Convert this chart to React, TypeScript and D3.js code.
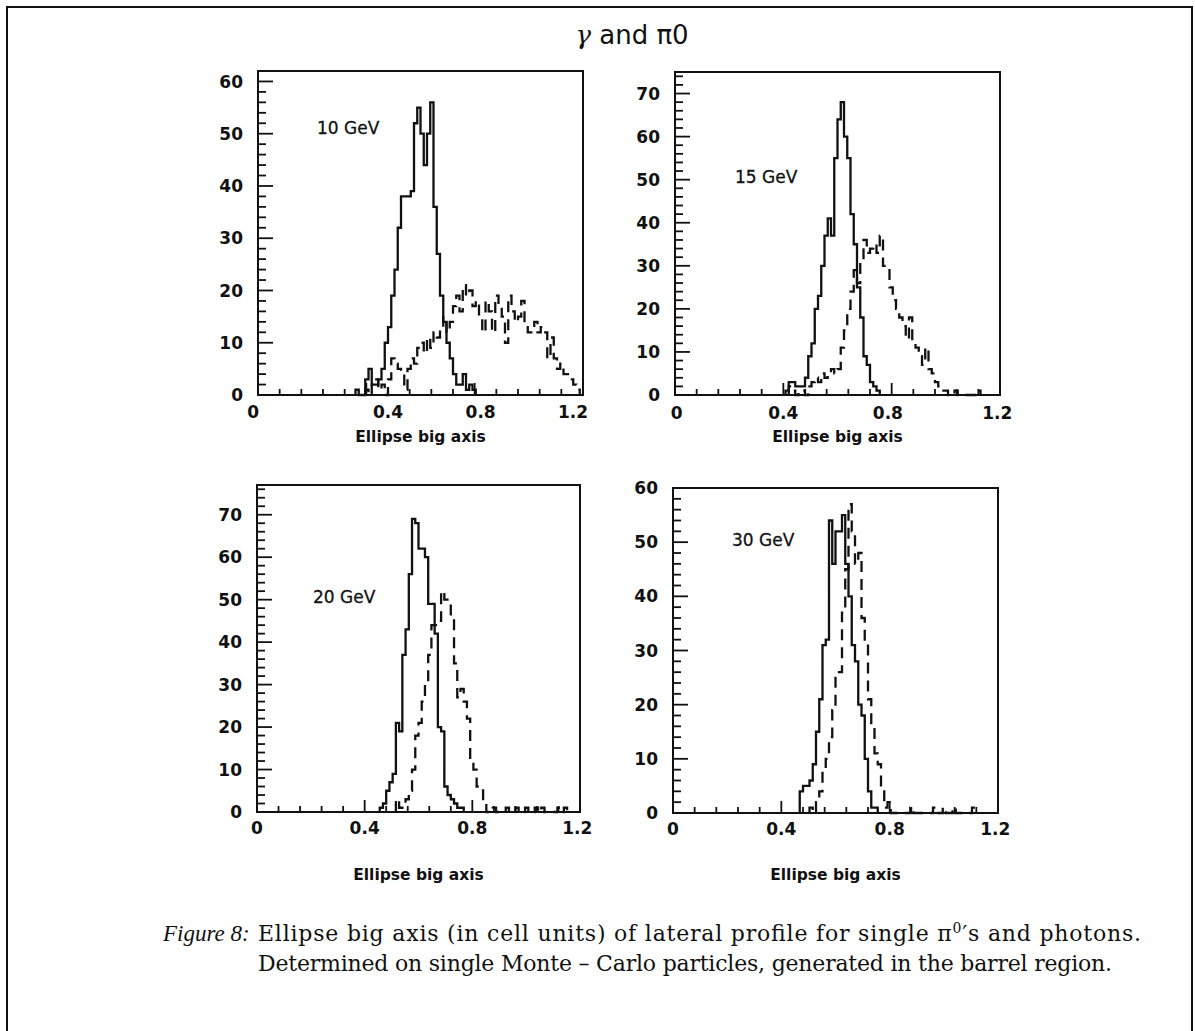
import React from "react";
import * as d3 from "d3";

// ---------- data ----------
const titleGamma = "γ";
const titleRest = " and π0";
const energyLabels = ["10 GeV", "15 GeV", "20 GeV", "30 GeV"];
const xAxisTitle = "Ellipse big axis";
const xTickValues = [0, 0.4, 0.8, 1.2];
const xTickLabels = ["0", "0.4", "0.8", "1.2"];
const yTicksA = [0, 10, 20, 30, 40, 50, 60];
const yTicksB = [0, 10, 20, 30, 40, 50, 60, 70];
const yMaxima = [62, 75, 77, 60];
const binWidth = 0.012; // 100 bins over 0..1.2

// 10 GeV
const solid10Start = 30;
const solid10 = [1, 0, 0, 3, 5, 2, 2, 3, 5, 10, 13, 19, 24, 32, 38, 38, 38, 39, 52, 55, 50, 44, 50, 56, 36, 27, 19, 14, 10, 7, 4, 2, 2, 4, 1, 2, 1];
const dashed10Start = 33;
const dashed10 = [1, 0, 2, 3, 1, 2, 0, 3, 7, 6, 5, 4, 1, 5, 7, 6, 9, 10, 8, 11, 9, 12, 11, 13, 15, 12, 14, 17, 19, 16, 21, 19, 20, 17, 18, 15, 12, 18, 16, 12, 19, 17, 15, 10, 19, 16, 14, 15, 18, 13, 12, 12, 14, 12, 13, 12, 7, 11, 7, 5, 6, 4, 4, 3, 2, 1];

// 15 GeV
const solid15Start = 34;
const solid15 = [1, 3, 3, 2, 2, 2, 4, 9, 12, 20, 23, 30, 37, 41, 37, 55, 64, 68, 60, 55, 42, 35, 25, 18, 9, 7, 3, 2, 1];
const dashed15Start = 35;
const dashed15 = [2, 1, 0, 1, 1, 0, 2, 3, 4, 3, 5, 4, 5, 6, 5, 6, 11, 15, 20, 24, 29, 26, 31, 36, 33, 34, 35, 33, 37, 30, 29, 25, 22, 20, 18, 16, 13, 18, 13, 11, 9, 7, 11, 6, 5, 3, 2, 1, 1, 0, 0, 1, 0, 0, 0, 0, 0, 0, 1];

// 20 GeV
const solid20Start = 38;
const solid20 = [1, 2, 5, 7, 9, 21, 19, 37, 43, 56, 69, 68, 62, 62, 60, 49, 49, 42, 20, 19, 6, 4, 3, 2, 1, 1];
const dashed20Start = 43;
const dashed20 = [3, 1, 2, 3, 5, 10, 18, 21, 26, 30, 37, 44, 44, 45, 52, 50, 50, 46, 35, 27, 29, 26, 22, 12, 10, 6, 6, 2, 0, 0, 1, 0, 0, 0, 1, 0, 0, 1, 0, 0, 1, 0, 0, 1, 0, 1, 0, 0, 0, 0, 1, 0, 1];

// 30 GeV
const solid30Start = 39;
const solid30 = [4, 5, 5, 6, 9, 15, 21, 31, 32, 54, 46, 52, 52, 55, 46, 40, 31, 28, 20, 18, 10, 4, 1, 1];
const dashed30Start = 42;
const dashed30 = [1, 0, 2, 4, 8, 10, 14, 19, 26, 26, 37, 45, 57, 52, 46, 48, 36, 32, 21, 16, 11, 9, 4, 1, 2, 0, 0, 0, 0, 0, 0, 1, 0, 0, 0, 0, 0, 0, 1, 0, 0, 1, 0, 0, 1, 0, 0, 0, 0, 0, 1];

const captionLabel = "Figure 8:";
const captionLine1 = "Ellipse big axis (in cell units) of lateral profile for single π";
const captionLine1b = "0";
const captionLine1c = "′s and photons.";
const captionLine2 = "Determined on single Monte – Carlo particles, generated in the barrel region.";

// ---------- layout ----------
const W = 1195;
const H = 1031;

type Panel = {
  left: number; right: number; top: number; bottom: number;
  yMax: number; yTicks: number[];
  solidStart: number; solid: number[];
  dashedStart: number; dashed: number[];
  energy: string; ex: number; ey: number;
  labelY: number; titleY: number; labelPos: number[];
};

const panels: Panel[] = [
  { left: 258, right: 583, top: 71, bottom: 395, yMax: yMaxima[0], yTicks: yTicksA,
    solidStart: solid10Start, solid: solid10, dashedStart: dashed10Start, dashed: dashed10,
    energy: energyLabels[0], ex: 317, ey: 134, labelY: 418, titleY: 442, labelPos: [-0.018, 0.48, 0.822, 1.163] },
  { left: 675, right: 1000, top: 72, bottom: 395, yMax: yMaxima[1], yTicks: yTicksB,
    solidStart: solid15Start, solid: solid15, dashedStart: dashed15Start, dashed: dashed15,
    energy: energyLabels[1], ex: 735, ey: 183, labelY: 419, titleY: 442, labelPos: [0.006, 0.4, 0.786, 1.19] },
  { left: 257, right: 580, top: 485, bottom: 812, yMax: yMaxima[2], yTicks: yTicksB,
    solidStart: solid20Start, solid: solid20, dashedStart: dashed20Start, dashed: dashed20,
    energy: energyLabels[2], ex: 313, ey: 603, labelY: 834, titleY: 880, labelPos: [0, 0.4, 0.8, 1.19] },
  { left: 673, right: 998, top: 488, bottom: 813, yMax: yMaxima[3], yTicks: yTicksA,
    solidStart: solid30Start, solid: solid30, dashedStart: dashed30Start, dashed: dashed30,
    energy: energyLabels[3], ex: 732, ey: 546, labelY: 835, titleY: 880, labelPos: [0, 0.4, 0.8, 1.19] },
];

const ink = "#111";
const sans = "'DejaVu Sans', sans-serif";
const serif = "'DejaVu Serif', serif";

function histPath(start: number, values: number[], x: d3.ScaleLinear<number, number>, y: d3.ScaleLinear<number, number>) {
  const pts: [number, number][] = [];
  pts.push([x(start * binWidth), y(0)]);
  values.forEach((v, i) => pts.push([x((start + i) * binWidth), y(v)]));
  pts.push([x((start + values.length) * binWidth), y(0)]);
  return d3.line().curve(d3.curveStepAfter)(pts) || "";
}

function PanelView({ p }: { p: Panel }) {
  const x = d3.scaleLinear().domain([0, 1.2]).range([p.left, p.right]);
  const y = d3.scaleLinear().domain([0, p.yMax]).range([p.bottom, p.top]);
  const xMinor = d3.range(0, 16).map((i) => i * 0.08);
  const yMinor = d3.range(0, Math.floor(p.yMax / 2) + 1).map((i) => i * 2).filter((v) => v <= p.yMax);
  return (
    <g>
      <path d={histPath(p.dashedStart, p.dashed, x, y)} fill="none" stroke={ink} strokeWidth={2.3} strokeDasharray="11 7" />
      <path d={histPath(p.solidStart, p.solid, x, y)} fill="none" stroke={ink} strokeWidth={2.3} />
      <rect x={p.left} y={p.top} width={p.right - p.left} height={p.bottom - p.top} fill="none" stroke={ink} strokeWidth={2} />
      {xMinor.map((v, i) => {
        const major = i % 5 === 0;
        return <line key={"xt" + i} x1={x(v)} x2={x(v)} y1={p.bottom} y2={p.bottom - (major ? 12 : 6)} stroke={ink} strokeWidth={1.8} />;
      })}
      {yMinor.map((v) => {
        const major = v % 10 === 0;
        return <line key={"yt" + v} x1={p.left} x2={p.left + (major ? 15 : 8)} y1={y(v)} y2={y(v)} stroke={ink} strokeWidth={1.8} />;
      })}
      {p.yTicks.map((v) => (
        <text key={"yl" + v} x={p.left - 15} y={y(v)} dy="0.36em" textAnchor="end" fontFamily={sans} fontWeight="bold" fontSize={17} fill={ink}>{v}</text>
      ))}
      {xTickValues.map((v, i) => (
        <text key={"xl" + v} x={x(p.labelPos[i])} y={p.labelY} textAnchor="middle" fontFamily={sans} fontWeight="bold" fontSize={17} fill={ink}>{xTickLabels[i]}</text>
      ))}
      <text x={(p.left + p.right) / 2} y={p.titleY} textAnchor="middle" fontFamily={sans} fontWeight="bold" fontSize={15.5} fill={ink}>{xAxisTitle}</text>
      <text x={p.ex} y={p.ey} fontFamily={sans} fontSize={17} fill={ink} stroke={ink} strokeWidth={0.3}>{p.energy}</text>
    </g>
  );
}

export default function App() {
  return (
    <svg width={W} height={H} viewBox={`0 0 ${W} ${H}`} style={{ position: "absolute", left: 0, top: 0, background: "#fff" }}>
      <rect x={0} y={0} width={W} height={H} fill="#fff" />
      <rect x={7} y={7} width={1185} height={1040} fill="none" stroke={ink} strokeWidth={2} />
      <text x={632} y={44} textAnchor="middle" fontFamily={sans} fontSize={26} fill={ink}>
        <tspan fontFamily={serif} fontStyle="italic">{titleGamma}</tspan>
        {titleRest}
      </text>
      {panels.map((p, i) => <PanelView key={i} p={p} />)}
      <text x={163} y={941} fontFamily="'Liberation Serif', serif" fontStyle="italic" fontSize={23} fill={ink}>{captionLabel}</text>
      <text x={258} y={941} fontFamily={serif} fontSize={22} fill={ink} textLength={883} lengthAdjust="spacing">
        {captionLine1}
        <tspan dy={-8} fontSize={14}>{captionLine1b}</tspan>
        <tspan dy={8}>{captionLine1c}</tspan>
      </text>
      <text x={258} y={971} fontFamily={serif} fontSize={22} fill={ink} textLength={854} lengthAdjust="spacing">{captionLine2}</text>
    </svg>
  );
}
